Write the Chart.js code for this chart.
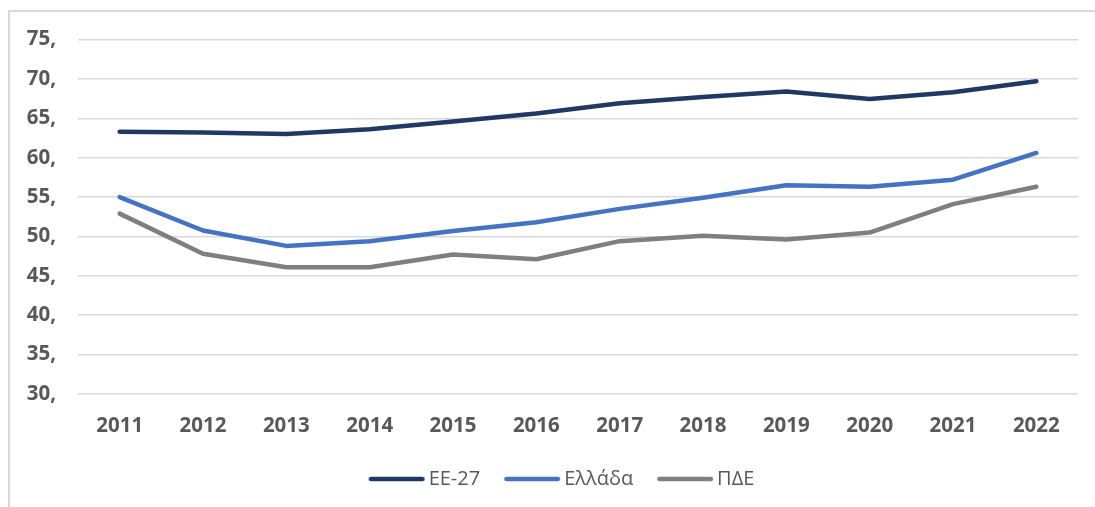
<!DOCTYPE html>
<html>
<head>
<meta charset="utf-8">
<script src="https://cdn.jsdelivr.net/npm/chart.js@4/dist/chart.umd.min.js"></script>
<style>
  html, body { margin: 0; padding: 0; background: #ffffff; }
  body { width: 1095px; height: 507px; position: relative; overflow: hidden; }
  #frame { position: absolute; left: 8px; top: 10px; width: 1200px; height: 600px;
           border-left: 2px solid #d9d9d9; border-top: 2px solid #d9d9d9; box-sizing: border-box; }
  #wrap { position: absolute; left: 0; top: 0; width: 1095px; height: 507px; }
</style>
</head>
<body>
<div id="frame"></div>
<div id="wrap"><canvas id="c" width="1095" height="507"></canvas></div>
<script>
const years = ['2011','2012','2013','2014','2015','2016','2017','2018','2019','2020','2021','2022'];
const eu27   = [63.3, 63.2, 63.0, 63.6, 64.6, 65.6, 66.9, 67.7, 68.4, 67.45, 68.3, 69.7];
const greece = [55.0, 50.75, 48.8, 49.4, 50.7, 51.8, 53.5, 54.9, 56.5, 56.3, 57.2, 60.6];
const pde    = [52.9, 47.8, 46.1, 46.1, 47.7, 47.1, 49.4, 50.1, 49.6, 50.5, 54.1, 56.3];
const seriesNames = ['ΕΕ-27', 'Ελλάδα', 'ΠΔΕ'];
const seriesColors = ['#203864', '#4472c4', '#7f7f7f'];
const yMin = 30, yMax = 75, yStep = 5;

const fontFam = '"Open Sans", "Noto Sans", sans-serif';
const txt = '#595959';
const LINE_W = 4.5;

// legend marker: a short line drawn offset to the right inside a wider image
function legendMarker(color) {
  const cv = document.createElement('canvas');
  cv.width = 80; cv.height = 8;
  const g = cv.getContext('2d');
  g.strokeStyle = color; g.lineWidth = LINE_W; g.lineCap = 'round';
  g.beginPath(); g.moveTo(24.25, 4); g.lineTo(75.75, 4); g.stroke();
  return cv;
}

function ds(i, data) {
  return {
    label: seriesNames[i], data,
    borderColor: seriesColors[i], backgroundColor: seriesColors[i],
    borderWidth: LINE_W, pointRadius: 0, pointHoverRadius: 0,
    pointStyle: legendMarker(seriesColors[i]),
    borderCapStyle: 'round', borderJoinStyle: 'round',
    tension: 0, fill: false
  };
}

const legendShift = {
  id: 'legendShift',
  afterLayout(chart) {
    const lg = chart.legend;
    if (lg) { lg.left += 15.5; lg.right += 15.5; }
  }
};

new Chart(document.getElementById('c'), {
  type: 'line',
  data: {
    labels: years,
    datasets: [ds(0, eu27), ds(1, greece), ds(2, pde)]
  },
  plugins: [legendShift],
  options: {
    responsive: false,
    animation: false,
    devicePixelRatio: 1,
    layout: { padding: { left: 0, right: 17, top: 39.5, bottom: 8 } },
    plugins: {
      tooltip: { enabled: false },
      legend: {
        position: 'bottom',
        labels: {
          color: txt,
          font: { family: fontFam, size: 20 },
          usePointStyle: true,
          pointStyleWidth: 64,
          padding: 10
        }
      }
    },
    scales: {
      x: {
        offset: true,
        grid: { display: false, drawTicks: false },
        border: { display: false },
        ticks: { color: txt, font: { family: fontFam, size: 20.5, weight: 'bold' }, padding: 20, maxRotation: 0 },
        afterFit: s => { s.height = 65; }
      },
      y: {
        min: yMin, max: yMax,
        grid: { color: '#d9d9d9', lineWidth: 1.5, drawTicks: false },
        border: { display: false },
        ticks: {
          stepSize: yStep, color: txt,
          font: { family: fontFam, size: 20.5, weight: 'bold' },
          padding: 22,
          callback: v => v + ','
        },
        afterFit: s => { s.width = 78; }
      }
    }
  }
});
</script>
</body>
</html>
